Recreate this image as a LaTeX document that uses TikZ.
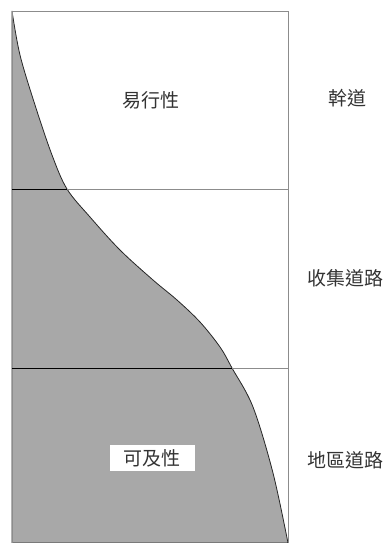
\documentclass[tikz,border=0pt]{standalone}
\usepackage{fontspec}
\usepackage{xcolor}
\newfontfamily\cjk{Noto Sans CJK TC}
\definecolor{shade-gray}{RGB}{168, 168, 168}
\definecolor{thin-gray}{RGB}{140, 140, 140}
\tikzset{lbl/.style={font=\cjk\fontsize{19}{22}\selectfont, text=black!80, inner sep=2pt}}

\begin{document}
\begin{tikzpicture}[x=1pt, y=-1pt]
\useasboundingbox (0,0) rectangle (387,543);
\filldraw[fill=shade-gray, draw=black!85, line width=0.8pt] plot[smooth, tension=0.55] coordinates {(12,11) (20,55) (35,105) (52,155) (67,189) (90,217) (120,250) (153,280) (177,300) (200,322) (220,347) (232,368) (253,407) (273,473) (288,543)} -- (12,543) -- cycle;
\draw[thin-gray, line width=0.8pt] (12,11) rectangle (288,543);
\draw[thin-gray, line width=0.6pt] (12,189) -- (288,189);
\draw[thin-gray, line width=0.6pt] (12,368) -- (288,368);
\draw[black, line width=1pt] (12,189) -- (67,189);
\draw[black, line width=1pt] (12,368) -- (232,368);
\node[lbl] (easy) at (151,100) {易行性};
\node[lbl, fill=white, inner xsep=14pt, inner ysep=4pt] (access) at (152,458) {可及性};
\node[lbl] (trunk) at (347,98) {幹道};
\node[lbl] (collect) at (345,278) {收集道路};
\node[lbl] (local) at (345,460) {地區道路};
\end{tikzpicture}
\end{document}
